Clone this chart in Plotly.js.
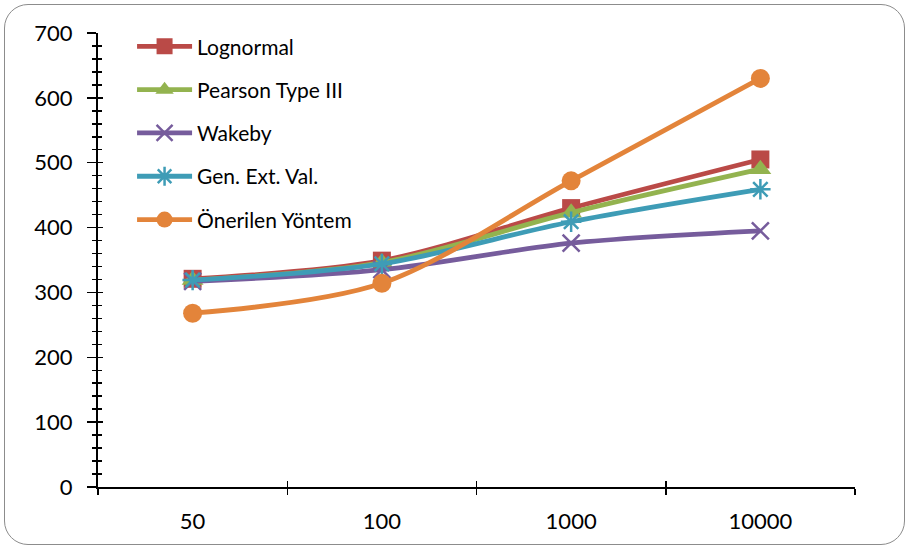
<!DOCTYPE html>
<html>
<head>
<meta charset="utf-8">
<script src="https://cdn.plot.ly/plotly-3.0.1.min.js"></script>
<style>
  html, body { margin: 0; padding: 0; background: #ffffff; }
  #wrap { position: relative; width: 909px; height: 549px; }
  #chart { position: absolute; left: 0; top: 0; width: 909px; height: 549px; }
  #frame {
    position: absolute; left: 4px; top: 4px; width: 899px; height: 539px;
    border: 1.5px solid #8c8c8c; border-radius: 24px; pointer-events: none;
  }
</style>
</head>
<body>
<div id="wrap">
  <div id="chart"></div>
  <div id="frame"></div>
</div>
<script>
// Return periods (categories) and the estimated values for each method
const periods = ['50', '100', '1000', '10000'];
const lognormal = [321, 349, 430, 505];
const pearson3 = [319, 346, 423, 490];
const wakeby = [317, 335, 376, 395];
const genExtVal = [319, 344, 409, 459];
const onerilen = [268, 314, 472, 630];

const seriesNames = ['Lognormal', 'Pearson Type III', 'Wakeby', 'Gen. Ext. Val.', 'Önerilen Yöntem'];
const seriesValues = [lognormal, pearson3, wakeby, genExtVal, onerilen];
const seriesColors = ['#BA4A47', '#93B34F', '#765C9C', '#3E9CB6', '#E3843A'];
const seriesSymbols = ['square', 'triangle-up', 'x-thin-open', 'asterisk-open', 'circle'];
const seriesSizes = [18, 19, 17, 17, 19];

const traces = seriesNames.map((name, i) => ({
  type: 'scatter',
  mode: 'lines+markers',
  name: name,
  legendgroup: 'g' + i,
  x: periods,
  y: seriesValues[i],
  line: { color: seriesColors[i], width: 4.8, shape: 'spline', smoothing: 0.9 },
  marker: {
    symbol: seriesSymbols[i],
    size: seriesSizes[i],
    color: seriesColors[i],
    line: { color: seriesColors[i], width: (i === 2 || i === 3) ? 2.5 : 0 }
  },
  cliponaxis: false
}));

const tickFont = { family: 'Lato, "Open Sans", sans-serif', size: 22, color: '#000000' };

const layout = {
  width: 909,
  height: 549,
  margin: { l: 98, r: 54, t: 33, b: 62 },
  paper_bgcolor: 'rgba(0,0,0,0)',
  plot_bgcolor: 'rgba(0,0,0,0)',
  showlegend: true,
  legend: {
    x: 0.045, y: 1.015, xanchor: 'left', yanchor: 'top',
    font: { family: 'Lato, "Open Sans", sans-serif', size: 21, color: '#000000' },
    itemwidth: 55,
    tracegroupgap: 13,
    bgcolor: 'rgba(0,0,0,0)'
  },
  xaxis: {
    type: 'category',
    range: [-0.5, 3.5],
    tickson: 'boundaries',
    ticks: 'outside',
    ticklen: 6,
    tickwidth: 1.5,
    tickcolor: '#000000',
    showline: true,
    linecolor: '#000000',
    linewidth: 2,
    showgrid: false,
    zeroline: false,
    tickfont: tickFont,
    ticklabelstandoff: 14,
    fixedrange: true
  },
  yaxis: {
    range: [0, 700],
    dtick: 100,
    ticks: 'outside',
    ticklen: 9,
    tickwidth: 1.5,
    tickcolor: '#000000',
    minor: { dtick: 20, ticks: 'outside', ticklen: 4, tickwidth: 1.5, tickcolor: '#000000' },
    showline: true,
    linecolor: '#000000',
    linewidth: 2,
    showgrid: false,
    zeroline: false,
    tickfont: tickFont,
    ticklabelstandoff: 10,
    fixedrange: true
  },
  // companion axis supplying the inner halves of the crossing ticks
  yaxis2: {
    overlaying: 'y',
    side: 'left',
    range: [0, 700],
    dtick: 100,
    ticks: 'inside',
    ticklen: 5,
    tickwidth: 1.5,
    tickcolor: '#000000',
    minor: { dtick: 20, ticks: 'inside', ticklen: 4, tickwidth: 1.5, tickcolor: '#000000' },
    showticklabels: false,
    showline: false,
    showgrid: false,
    zeroline: false,
    fixedrange: true
  },
  xaxis2: {
    overlaying: 'x',
    side: 'bottom',
    type: 'category',
    range: [-0.5, 3.5],
    tickson: 'boundaries',
    ticks: 'inside',
    ticklen: 6,
    tickwidth: 1.5,
    tickcolor: '#000000',
    showticklabels: false,
    showline: false,
    showgrid: false,
    zeroline: false,
    fixedrange: true
  }
};

// invisible trace that anchors the companion axes so their ticks are drawn
traces.unshift({
  type: 'scatter', mode: 'markers', x: periods, y: onerilen,
  xaxis: 'x2', yaxis: 'y2', showlegend: false, hoverinfo: 'skip',
  marker: { opacity: 0 }
});

Plotly.newPlot('chart', traces, layout, { displayModeBar: false, staticPlot: true });
</script>
</body>
</html>
